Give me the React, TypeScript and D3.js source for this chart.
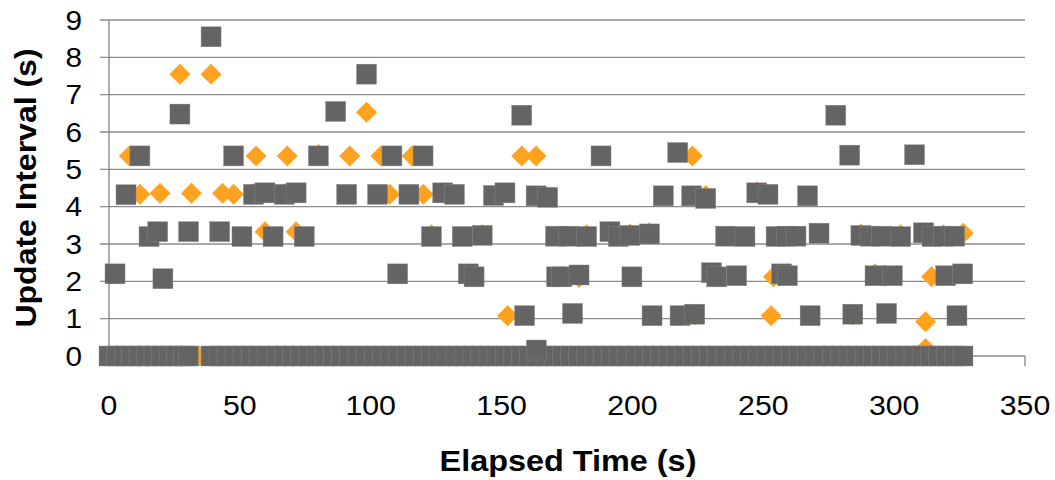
import React from "react";
import * as d3 from "d3";

const xTicks = [0, 50, 100, 150, 200, 250, 300, 350];
const yTicks = [0, 1, 2, 3, 4, 5, 6, 7, 8, 9];

// grey series (squares) – zero row
const greyZeroX = [
  0, 2.9, 5.8, 8.6, 11.5, 14.4, 17.2, 20.1, 23.0, 25.8, 28.6, 30.3,
  39.0, 42.1, 45.3, 48.2, 51.4, 54.5, 57.6, 60.7, 63.9, 67.0, 70.1, 73.2, 76.4, 79.5,
  82.6, 85.7, 88.9, 92.0, 95.1, 98.2, 101.4, 104.5, 107.6, 110.7, 113.9, 117.0, 120.1,
  123.2, 126.4, 129.5, 132.6, 135.7, 138.9, 142.0, 145.1, 148.2, 151.4, 154.5, 157.6,
  160.7, 163.9, 167.0, 170.1, 173.2, 176.4, 179.5, 182.6, 185.7, 188.9, 192.0, 195.1,
  198.2, 201.4, 204.5, 207.6, 210.7, 213.9, 217.0, 220.1, 223.2, 226.4, 229.5, 232.6,
  235.7, 238.9, 242.0, 245.1, 248.2, 251.4, 254.5, 257.6, 260.7, 263.9, 267.0, 270.1,
  273.2, 276.4, 279.5, 282.6, 285.7, 288.9, 292.0, 295.1, 298.2, 301.4, 304.5, 307.6,
  310.7, 313.9, 317.0, 320.1, 323.2, 326.3,
];

// grey series (squares) – non-zero points
const greyX = [
  39.0, 27.1, 11.8, 47.6, 80.0, 6.5, 55.2, 59.6, 67.0, 71.5, 15.3, 18.6, 30.4, 42.3, 50.8,
  62.7, 74.6, 2.3, 20.6,
  98.4, 86.6, 157.7, 108.1, 120.0, 90.8, 102.6, 114.6, 127.5, 132.0, 146.9, 151.3, 163.2,
  167.6, 123.2, 135.0, 142.6, 170.6, 110.3, 137.3, 139.5, 171.0, 158.8, 163.3,
  188.0, 217.3, 211.8, 222.6, 228.0, 247.5, 251.8, 175.5, 182.5, 191.4, 194.6, 199.1, 206.5,
  235.6, 243.0, 254.9, 258.9, 173.0, 179.6, 199.8, 230.2, 232.2, 239.8, 257.0, 177.1, 207.5,
  218.2, 223.8,
  277.7, 283.0, 307.8, 266.9, 262.5, 271.3, 287.3, 290.8, 295.2, 302.5, 311.2, 314.5, 318.8,
  323.1, 259.2, 292.7, 299.3, 319.7, 326.2, 267.9, 284.2, 297.1, 324.0,
];
const greyY = [
  8.55, 6.48, 5.36, 5.36, 5.36, 4.32, 4.33, 4.37, 4.33, 4.37, 3.2, 3.33, 3.33, 3.33, 3.2,
  3.2, 3.2, 2.2, 2.07,
  7.55, 6.55, 6.45, 5.36, 5.36, 4.33, 4.33, 4.33, 4.37, 4.33, 4.3, 4.37, 4.29,
  4.25, 3.2, 3.2, 3.23, 3.21, 2.2, 2.2, 2.12, 2.12, 1.08, 0.16,
  5.36, 5.45, 4.29, 4.29, 4.22, 4.37, 4.33, 3.21, 3.2, 3.33, 3.2, 3.23, 3.27,
  3.21, 3.2, 3.2, 3.21, 2.12, 2.17, 2.12, 2.23, 2.12, 2.15, 2.2, 1.14, 1.08,
  1.08, 1.12,
  6.45, 5.38, 5.39, 4.29, 3.21, 3.29, 3.23, 3.21, 3.21, 3.2, 3.3, 3.2, 3.21,
  3.21, 2.15, 2.15, 2.15, 2.15, 2.2, 1.08, 1.12, 1.14, 1.08,
];

// orange series (diamonds)
const orangeX = [
  27.1, 39.0, 7.8, 56.2, 68.1, 11.8, 19.5, 31.5, 43.4, 47.6, 59.6, 71.5, 34.6,
  98.4, 92.0, 103.9, 115.8, 157.7, 163.2, 107.3, 120.1, 152.3,
  222.9, 253.0, 253.9, 326.4, 314.3, 312.0, 312.0,
  80.0, 55.2, 67.0, 123.2, 142.6, 228.0, 247.5, 182.5, 199.1, 206.5, 259.2, 287.3, 302.5,
  318.8, 179.6, 292.7, 223.8, 284.2,
];
const orangeY = [
  7.55, 7.55, 5.36, 5.36, 5.36, 4.33, 4.36, 4.36, 4.36, 4.33, 3.33, 3.33, 0,
  6.53, 5.36, 5.36, 5.36, 5.36, 5.36, 4.33, 4.33, 1.08,
  5.36, 1.08, 2.12, 3.29, 2.12, 0.92, 0.2,
  5.4, 4.35, 4.35, 3.25, 3.25, 4.3, 4.4, 3.25, 3.27, 3.3, 2.2, 3.27, 3.25,
  3.25, 2.1, 2.2, 1.1, 1.1,
];

const W = 1055;
const H = 480;
const left = 109;
const right = 1025;
const top = 20;
const bottom = 356;

const FONT = "'Liberation Sans', Arial, Helvetica, sans-serif";
const GREY = "#646464";
const ORANGE = "#FFA21F";
const GRID = "#8c8c8c";

export default function App() {
  const x = d3.scaleLinear().domain([0, 350]).range([left, right]);
  const y = d3.scaleLinear().domain([0, 9]).range([bottom, top]);

  const sq = 20;
  const dr = 10.5;
  const diamond = (cx: number, cy: number) =>
    `M${cx},${cy - dr}L${cx + dr},${cy}L${cx},${cy + dr}L${cx - dr},${cy}Z`;

  const orangePts = orangeX.map((v, i) => [v, orangeY[i]]);
  const greyPts = [
    ...greyZeroX.map((v) => [v, 0]),
    ...greyX.map((v, i) => [v, greyY[i]]),
  ];

  return (
    <svg
      width={W}
      height={H}
      style={{ position: "absolute", left: 0, top: 0, background: "#fff" }}
    >
      {yTicks.map((t) => (
        <line
          key={"g" + t}
          x1={100}
          x2={right}
          y1={y(t)}
          y2={y(t)}
          stroke={GRID}
          strokeWidth={1.4}
        />
      ))}
      <line x1={left} x2={left} y1={top} y2={bottom} stroke={GRID} strokeWidth={1.4} />
      {xTicks.map((t) => (
        <line
          key={"xt" + t}
          x1={x(t)}
          x2={x(t)}
          y1={bottom}
          y2={bottom + 10}
          stroke={GRID}
          strokeWidth={1.4}
        />
      ))}
      {yTicks.map((t) => (
        <text
          key={"yl" + t}
          transform={`translate(82, ${y(t) + 9.8}) scale(1.1, 1)`}
          textAnchor="end"
          fontFamily={FONT}
          fontSize={27}
          fill="#000"
        >
          {t}
        </text>
      ))}
      {xTicks.map((t) => (
        <text
          key={"xl" + t}
          transform={`translate(${x(t)}, 415) scale(1.08, 1)`}
          textAnchor="middle"
          fontFamily={FONT}
          fontSize={28}
          fill="#000"
        >
          {t}
        </text>
      ))}
      {orangePts.map(([a, b], i) => (
        <path key={"o" + i} d={diamond(x(a), y(b))} fill={ORANGE} />
      ))}
      {greyPts.map(([a, b], i) => (
        <rect
          key={"s" + i}
          x={x(a) - sq / 2}
          y={y(b) - sq / 2}
          width={sq}
          height={sq}
          fill={GREY}
          stroke="#8a8a8a"
          strokeWidth={0.4}
        />
      ))}
      <text
        transform={`translate(${(left + right) / 2 + 1}, 471) scale(1.08, 1)`}
        textAnchor="middle"
        fontFamily={FONT}
        fontSize={30}
        fontWeight="bold"
        fill="#000"
      >
        Elapsed Time (s)
      </text>
      <text
        transform={`translate(36, 188) rotate(-90) scale(1, 0.9)`}
        textAnchor="middle"
        fontFamily={FONT}
        fontSize={32}
        fontWeight="bold"
        fill="#000"
      >
        Update Interval (s)
      </text>
    </svg>
  );
}
